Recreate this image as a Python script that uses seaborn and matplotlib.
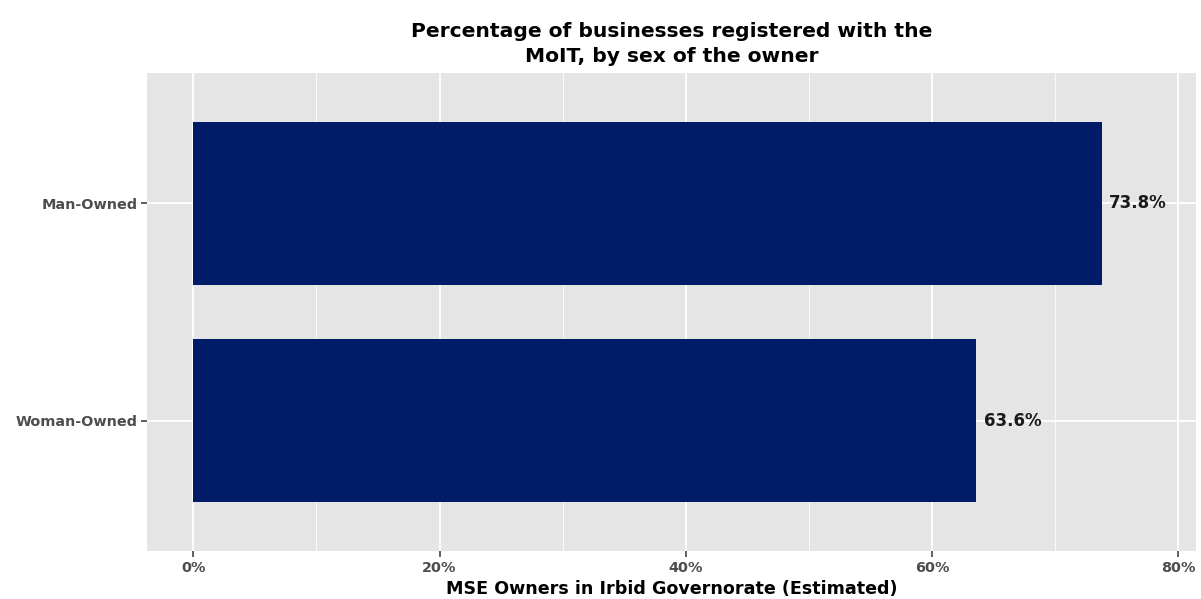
import matplotlib
matplotlib.use("Agg")
import matplotlib.pyplot as plt
import seaborn as sns
import pandas as pd
from matplotlib.ticker import MultipleLocator

categories = ["Man-Owned", "Woman-Owned"]
values = [73.8, 63.6]
tick_values = [0, 20, 40, 60, 80]
tick_labels = ["0%", "20%", "40%", "60%", "80%"]

df = pd.DataFrame({"owner": categories, "pct": values})

sns.set_theme(style="darkgrid")
plt.rcParams["font.family"] = ["DejaVu Sans"]

fig = plt.figure(figsize=(12.01, 5.99), dpi=100)
ax = fig.add_axes([147 / 1201, 1 - 551 / 599, (1196 - 147) / 1201, (551 - 73) / 599])
ax.set_facecolor("#E5E5E5")

sns.barplot(data=df, x="pct", y="owner", order=categories, color="#001C68",
            saturation=1, width=0.75, linewidth=0, edgecolor="none", ax=ax, zorder=3)

ax.set_xlim(-3.76, 81.45)
ax.set_ylim(len(categories) - 1 + 0.6, -0.6)
ax.set_xticks(tick_values)
ax.set_xticklabels(tick_labels)
ax.xaxis.set_minor_locator(MultipleLocator(10))
ax.grid(which="major", color="white", linewidth=1.3, zorder=0)
ax.grid(which="minor", axis="x", color="white", linewidth=0.6, zorder=0)
ax.set_axisbelow(True)
for s in ax.spines.values():
    s.set_visible(False)

ax.tick_params(axis="both", which="major", length=4, width=1.1, color="#333333",
               labelsize=10.4, labelcolor="#4D4D4D", pad=3, bottom=True, left=True)
ax.tick_params(axis="x", which="minor", length=0)
for lab in ax.get_xticklabels() + ax.get_yticklabels():
    lab.set_fontweight("bold")

for p, v in zip(ax.patches, values):
    y = p.get_y() + p.get_height() / 2
    ax.text(p.get_width() + 0.6, y, f"{v:.1f}%", va="center", ha="left",
            fontsize=12, fontweight="bold", color="#1a1a1a", zorder=4)

ax.set_ylabel("")
ax.set_xlabel("MSE Owners in Irbid Governorate (Estimated)", fontsize=12.6,
              fontweight="bold", color="black", labelpad=4)
ax.set_title("Percentage of businesses registered with the\nMoIT, by sex of the owner",
             fontsize=14.6, fontweight="bold", color="black", pad=8, linespacing=1.4)

fig.savefig("out.png", dpi=100)
